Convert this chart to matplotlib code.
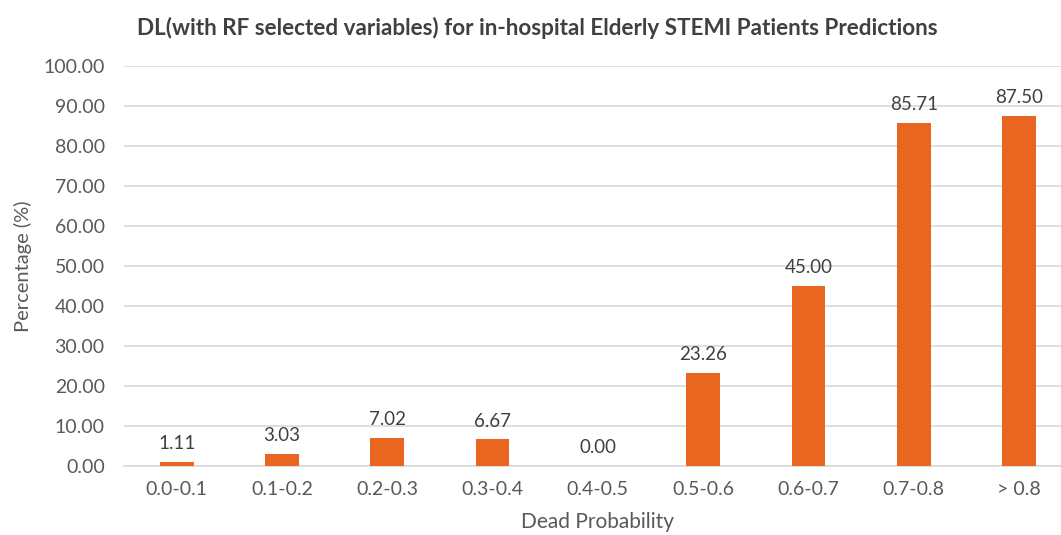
import matplotlib
matplotlib.use("Agg")
from matplotlib import pyplot as plt

plt.rcParams['font.family'] = ['Lato', 'DejaVu Sans']

categories = ['0.0-0.1', '0.1-0.2', '0.2-0.3', '0.3-0.4', '0.4-0.5',
              '0.5-0.6', '0.6-0.7', '0.7-0.8', '> 0.8']
percentages = [1.11, 3.03, 7.02, 6.67, 0.00, 23.26, 45.00, 85.71, 87.50]
y_ticks = [0, 10, 20, 30, 40, 50, 60, 70, 80, 90, 100]

BAR_COLOR = '#E8661F'
TEXT_COLOR = '#595959'
GRID_COLOR = '#D9D9D9'

fig = plt.figure(figsize=(10.61, 5.35), dpi=100)
ax = fig.add_axes([0.117, 0.129, 0.893, 0.748])

x = range(len(categories))
bars = ax.bar(x, percentages, width=0.32, color=BAR_COLOR, zorder=3)

for bar, val in zip(bars, percentages):
    ax.annotate(f'{val:.2f}', (bar.get_x() + bar.get_width() / 2, val),
                xytext=(0, 7), textcoords='offset points',
                ha='center', va='bottom', fontsize=13.5, color='#404040')

ax.set_xlim(-0.5, 8.5)
ax.set_ylim(0, 100)
ax.set_yticks(y_ticks)
ax.set_yticklabels([f'{v:.2f}' for v in y_ticks])
ax.set_xticks(list(x))
ax.set_xticklabels(categories)
ax.tick_params(axis='both', length=0, labelsize=14, colors=TEXT_COLOR)
ax.tick_params(axis='y', pad=14)
ax.tick_params(axis='x', pad=11)

ax.grid(axis='y', color=GRID_COLOR, linewidth=1.2, zorder=0)
for side in ['top', 'right', 'left']:
    ax.spines[side].set_visible(False)
ax.spines['bottom'].set_color(GRID_COLOR)
ax.spines['bottom'].set_linewidth(1.2)

ax.set_ylabel('Percentage (%)', fontsize=14.5, color=TEXT_COLOR, labelpad=8)
ax.set_xlabel('Dead Probability', fontsize=15, color=TEXT_COLOR, labelpad=10)

fig.text(0.506, 0.948, 'DL(with RF selected variables) for in-hospital Elderly STEMI Patients Predictions',
         ha='center', va='center', fontsize=16.2, fontweight='bold', color='#404040')

fig.savefig('out.png', dpi=100)
